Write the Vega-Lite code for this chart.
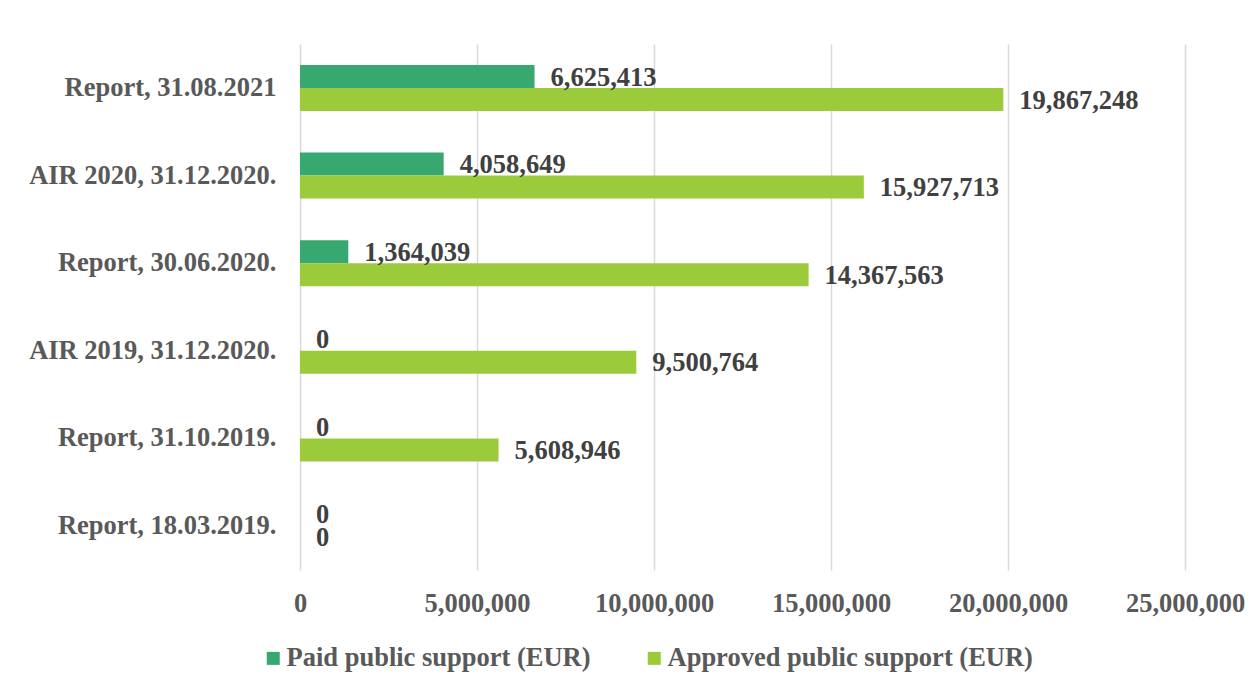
{
  "$schema": "https://vega.github.io/schema/vega-lite/v6.json",
  "autosize": "none",
  "width": 885,
  "height": 526,
  "padding": {"left": 300, "top": 44, "right": 74, "bottom": 120},
  "background": "white",
  "config": {
    "font": "Liberation Serif",
    "view": {"stroke": null}
  },
  "data": {
    "values": [
      {"category": "Report, 31.08.2021", "series": "Paid public support (EUR)", "value": 6625413},
      {"category": "Report, 31.08.2021", "series": "Approved public support (EUR)", "value": 19867248},
      {"category": "AIR 2020, 31.12.2020.", "series": "Paid public support (EUR)", "value": 4058649},
      {"category": "AIR 2020, 31.12.2020.", "series": "Approved public support (EUR)", "value": 15927713},
      {"category": "Report, 30.06.2020.", "series": "Paid public support (EUR)", "value": 1364039},
      {"category": "Report, 30.06.2020.", "series": "Approved public support (EUR)", "value": 14367563},
      {"category": "AIR 2019, 31.12.2020.", "series": "Paid public support (EUR)", "value": 0},
      {"category": "AIR 2019, 31.12.2020.", "series": "Approved public support (EUR)", "value": 9500764},
      {"category": "Report, 31.10.2019.", "series": "Paid public support (EUR)", "value": 0},
      {"category": "Report, 31.10.2019.", "series": "Approved public support (EUR)", "value": 5608946},
      {"category": "Report, 18.03.2019.", "series": "Paid public support (EUR)", "value": 0},
      {"category": "Report, 18.03.2019.", "series": "Approved public support (EUR)", "value": 0}
    ]
  },
  "encoding": {
    "y": {
      "field": "category",
      "type": "nominal",
      "sort": null,
      "scale": {"paddingInner": 0.475, "paddingOuter": 0.24},
      "axis": {
        "title": null,
        "ticks": false,
        "domain": false,
        "labelFont": "Liberation Serif",
        "labelFontWeight": "bold",
        "labelFontSize": 26.5,
        "labelColor": "#595959",
        "labelPadding": 24,
        "labelLimit": 400
      }
    },
    "yOffset": {
      "field": "series",
      "type": "nominal",
      "sort": ["Paid public support (EUR)", "Approved public support (EUR)"],
      "scale": {"paddingInner": 0, "paddingOuter": 0}
    },
    "x": {
      "field": "value",
      "type": "quantitative",
      "scale": {"domain": [0, 25000000]},
      "axis": {
        "title": null,
        "values": [0, 5000000, 10000000, 15000000, 20000000, 25000000],
        "format": ",.0f",
        "ticks": false,
        "domain": false,
        "grid": true,
        "gridColor": "#d9d9d9",
        "gridWidth": 1.5,
        "labelFont": "Liberation Serif",
        "labelFontWeight": "bold",
        "labelFontSize": 26.5,
        "labelColor": "#595959",
        "labelPadding": 20,
        "labelFlush": false
      }
    }
  },
  "layer": [
    {
      "mark": {"type": "bar"},
      "encoding": {
        "color": {
          "field": "series",
          "type": "nominal",
          "sort": ["Paid public support (EUR)", "Approved public support (EUR)"],
          "scale": {
            "domain": ["Paid public support (EUR)", "Approved public support (EUR)"],
            "range": ["#37A86F", "#9BCB3B"]
          },
          "legend": {
            "title": null,
            "orient": "none",
            "legendX": -40,
            "legendY": 601,
            "direction": "horizontal",
            "symbolType": "square",
            "symbolSize": 169,
            "symbolStrokeWidth": 0,
            "labelFont": "Liberation Serif",
            "labelFontWeight": "bold",
            "labelFontSize": 26.5,
            "labelColor": "#595959",
            "labelOffset": 0,
            "columnPadding": 50,
            "labelLimit": 500
          }
        }
      }
    },
    {
      "mark": {
        "type": "text",
        "align": "left",
        "baseline": "middle",
        "dx": 16,
        "dy": 1,
        "font": "Liberation Serif",
        "fontWeight": "bold",
        "fontSize": 26.5,
        "color": "#404040"
      },
      "encoding": {
        "text": {"field": "value", "type": "quantitative", "format": ",.0f"}
      }
    }
  ]
}
